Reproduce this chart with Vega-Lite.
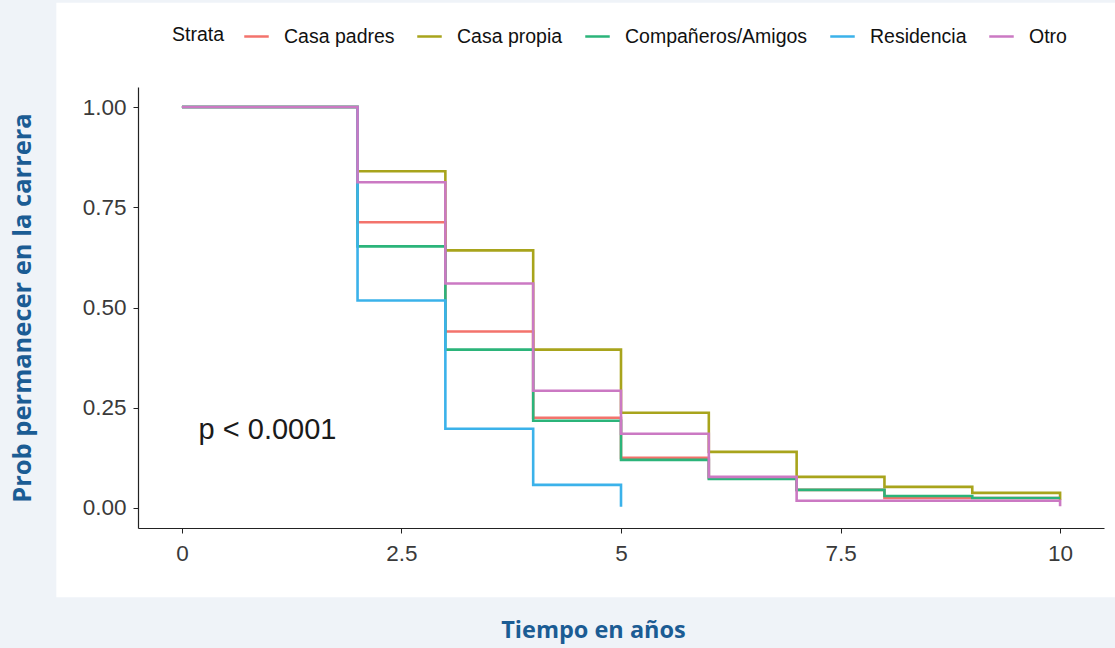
{
  "$schema": "https://vega.github.io/schema/vega-lite/v6.json",
  "autosize": {"type": "none"},
  "width": 966,
  "height": 441,
  "padding": {"left": 138, "top": 87, "right": 11, "bottom": 120},
  "background": "#eff3f8",
  "config": {
    "view": {"stroke": null},
    "font": "Liberation Sans",
    "axis": {
      "zindex": 1,
      "grid": false,
      "domainColor": "#222222",
      "domainWidth": 1.2,
      "tickColor": "#222222",
      "tickSize": 5,
      "labelFont": "Liberation Sans",
      "labelFontSize": 22.5,
      "labelColor": "#3a3a3a",
      "titleFont": "Open Sans",
      "titleFontWeight": "bold",
      "titleColor": "#1b5c94"
    },
    "legend": {
      "zindex": 1,
      "orient": "none",
      "legendX": 34,
      "legendY": -64,
      "direction": "horizontal",
      "titleOrient": "left",
      "titleFont": "Liberation Sans",
      "titleFontWeight": "normal",
      "titleFontSize": 19.5,
      "titleColor": "#111111",
      "titlePadding": 18,
      "labelFont": "Liberation Sans",
      "labelFontSize": 19.5,
      "labelColor": "#111111",
      "labelLimit": 400,
      "labelOffset": 14,
      "columnPadding": 17,
      "symbolType": "stroke",
      "symbolSize": 600,
      "symbolStrokeWidth": 2.5
    }
  },
  "data": {
    "values": [
      {"t": 0, "s": 1, "g": "Casa padres"},
      {"t": 2, "s": 0.7125, "g": "Casa padres"},
      {"t": 3, "s": 0.44, "g": "Casa padres"},
      {"t": 4, "s": 0.225, "g": "Casa padres"},
      {"t": 5, "s": 0.125, "g": "Casa padres"},
      {"t": 6, "s": 0.075, "g": "Casa padres"},
      {"t": 7, "s": 0.045, "g": "Casa padres"},
      {"t": 8, "s": 0.025, "g": "Casa padres"},
      {"t": 10, "s": 0.025, "g": "Casa padres"},
      {"t": 0, "s": 1, "g": "Casa propia"},
      {"t": 2, "s": 0.84, "g": "Casa propia"},
      {"t": 3, "s": 0.6425, "g": "Casa propia"},
      {"t": 4, "s": 0.395, "g": "Casa propia"},
      {"t": 5, "s": 0.2375, "g": "Casa propia"},
      {"t": 6, "s": 0.14, "g": "Casa propia"},
      {"t": 7, "s": 0.0775, "g": "Casa propia"},
      {"t": 8, "s": 0.0525, "g": "Casa propia"},
      {"t": 9, "s": 0.0375, "g": "Casa propia"},
      {"t": 10, "s": 0.02, "g": "Casa propia"},
      {"t": 0, "s": 1, "g": "Compañeros/Amigos"},
      {"t": 2, "s": 0.6525, "g": "Compañeros/Amigos"},
      {"t": 3, "s": 0.395, "g": "Compañeros/Amigos"},
      {"t": 4, "s": 0.2175, "g": "Compañeros/Amigos"},
      {"t": 5, "s": 0.12, "g": "Compañeros/Amigos"},
      {"t": 6, "s": 0.0725, "g": "Compañeros/Amigos"},
      {"t": 7, "s": 0.045, "g": "Compañeros/Amigos"},
      {"t": 8, "s": 0.03, "g": "Compañeros/Amigos"},
      {"t": 9, "s": 0.025, "g": "Compañeros/Amigos"},
      {"t": 10, "s": 0.025, "g": "Compañeros/Amigos"},
      {"t": 0, "s": 1, "g": "Residencia"},
      {"t": 2, "s": 0.5175, "g": "Residencia"},
      {"t": 3, "s": 0.1975, "g": "Residencia"},
      {"t": 4, "s": 0.0575, "g": "Residencia"},
      {"t": 5, "s": 0.003, "g": "Residencia"},
      {"t": 0, "s": 1, "g": "Otro"},
      {"t": 2, "s": 0.8125, "g": "Otro"},
      {"t": 3, "s": 0.56, "g": "Otro"},
      {"t": 4, "s": 0.2925, "g": "Otro"},
      {"t": 5, "s": 0.185, "g": "Otro"},
      {"t": 6, "s": 0.0775, "g": "Otro"},
      {"t": 7, "s": 0.018, "g": "Otro"},
      {"t": 10, "s": 0.004, "g": "Otro"}
    ]
  },
  "layer": [
    {
      "data": {"values": [{}]},
      "mark": {"type": "rect", "fill": "#ffffff", "clip": false},
      "encoding": {
        "x": {"datum": -1.43, "type": "quantitative"},
        "x2": {"datum": 11},
        "y": {"datum": 1.26, "type": "quantitative"},
        "y2": {"datum": -0.2225}
      }
    },
    {
      "mark": {"type": "line", "interpolate": "step-after", "strokeWidth": 2.6},
      "encoding": {
        "x": {
          "field": "t",
          "type": "quantitative",
          "scale": {"domain": [-0.5, 10.5], "nice": false, "zero": false},
          "axis": {
            "zindex": 2,
            "values": [0, 2.5, 5, 7.5, 10],
            "format": "~g",
            "labelPadding": 9,
            "title": "Tiempo en años",
            "titleFontSize": 23.5,
            "titleX": 455,
            "titleY": 90,
            "titleBaseline": "top",
            "titleAnchor": "start",
            "titleAlign": "center"
          }
        },
        "y": {
          "field": "s",
          "type": "quantitative",
          "scale": {"domain": [-0.05, 1.05], "nice": false, "zero": false},
          "axis": {
            "zindex": 2,
            "values": [0, 0.25, 0.5, 0.75, 1],
            "format": ".2f",
            "labelPadding": 7,
            "title": "Prob permanecer en  la carrera",
            "titleFontSize": 25.5,
            "titleX": -116,
            "titleBaseline": "middle"
          }
        },
        "color": {
          "field": "g",
          "type": "nominal",
          "title": "Strata",
          "sort": ["Casa padres", "Casa propia", "Compañeros/Amigos", "Residencia", "Otro"],
          "scale": {
            "domain": ["Casa padres", "Casa propia", "Compañeros/Amigos", "Residencia", "Otro"],
            "range": ["#f3736c", "#a8a41c", "#2bb47a", "#3bb2ea", "#cb79c3"]
          }
        }
      }
    },
    {
      "data": {"values": [{}]},
      "mark": {"type": "text", "text": "p < 0.0001", "align": "left", "baseline": "middle", "fontSize": 29, "fontWeight": "normal", "font": "Liberation Sans", "color": "#1a1a1a"},
      "encoding": {
        "x": {"datum": 0.19, "type": "quantitative"},
        "y": {"datum": 0.195, "type": "quantitative"}
      }
    }
  ]
}
